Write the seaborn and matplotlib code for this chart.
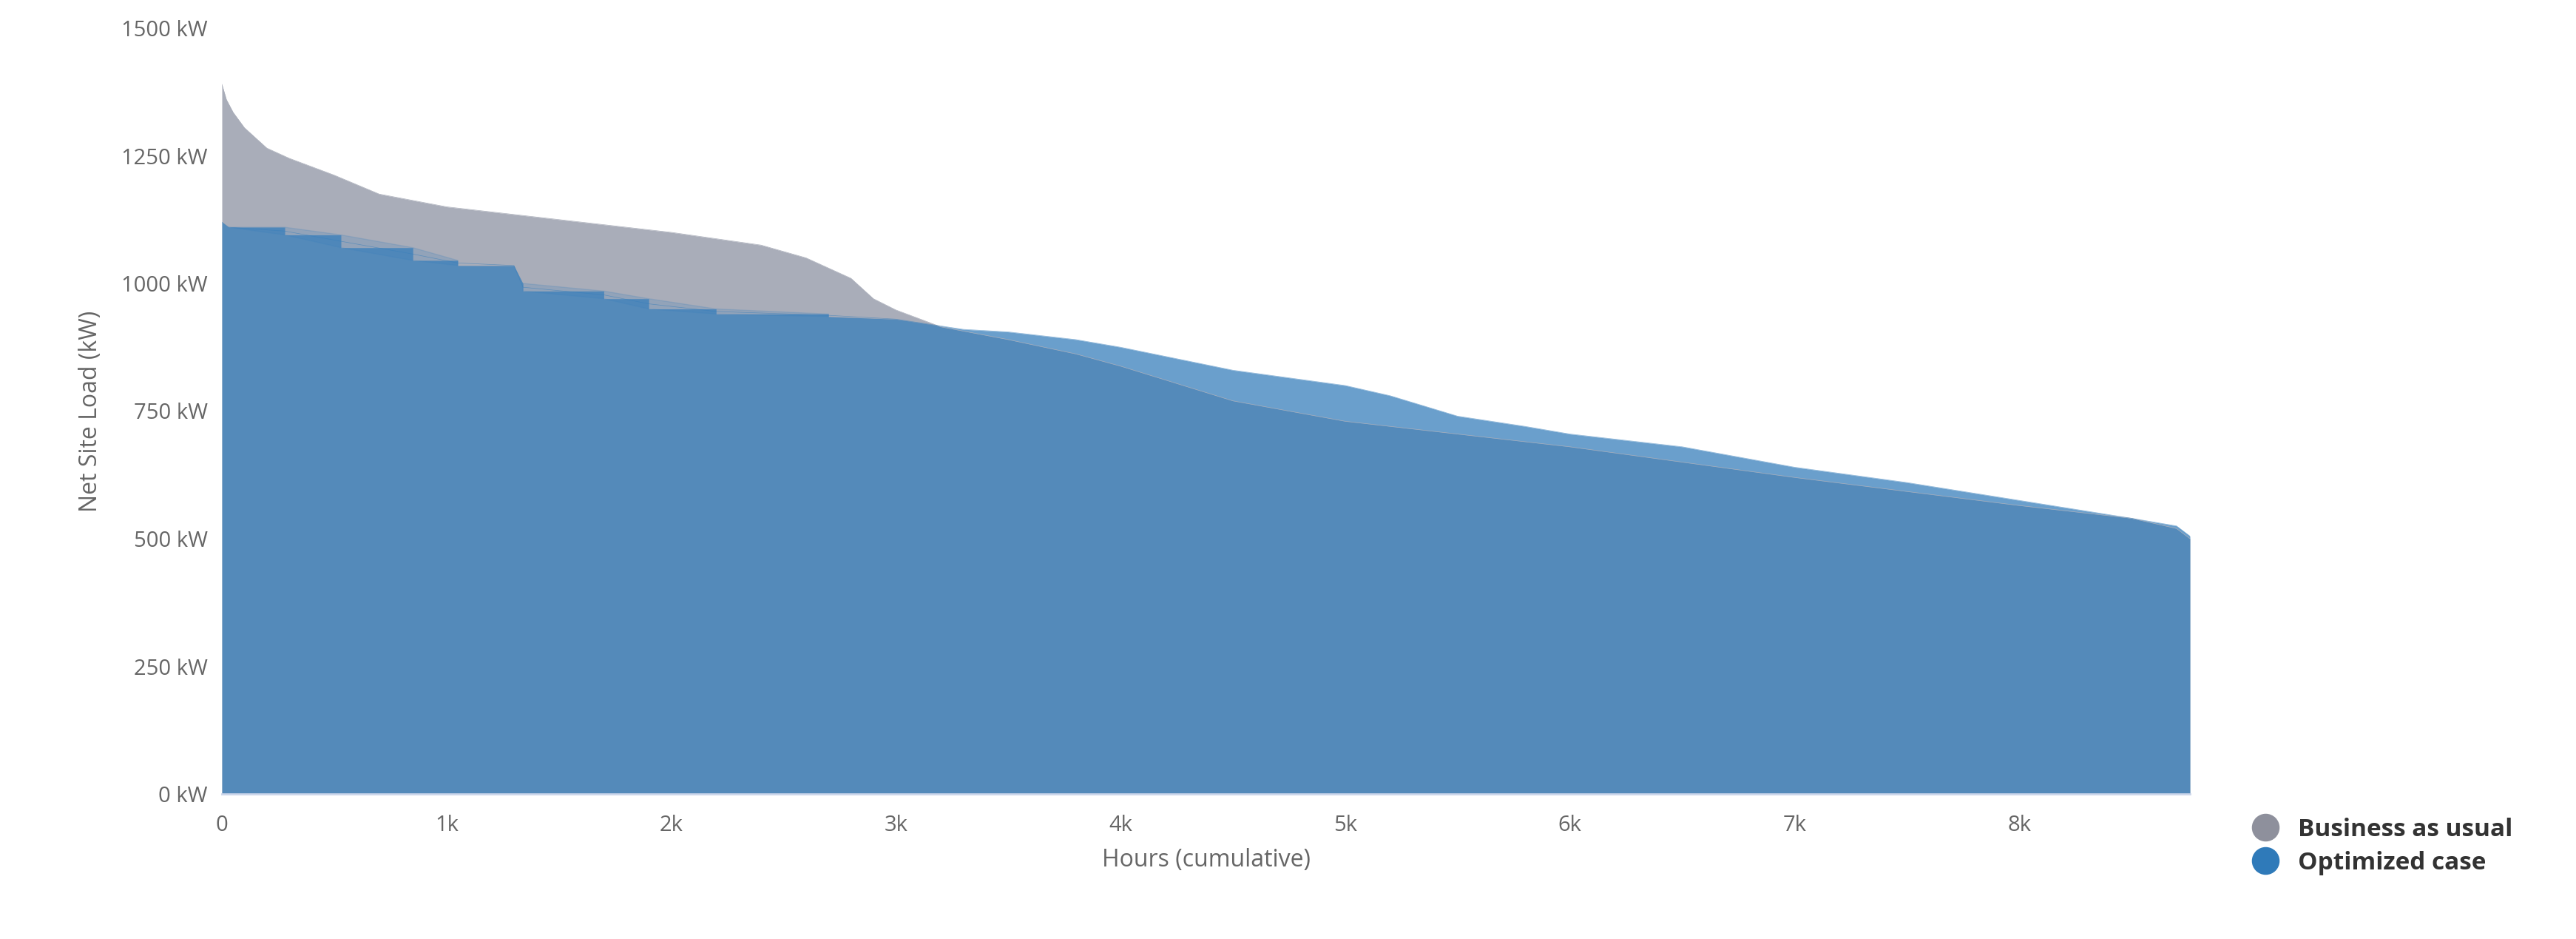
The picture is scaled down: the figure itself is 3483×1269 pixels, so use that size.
import matplotlib
matplotlib.use("Agg")
import matplotlib.pyplot as plt
import seaborn as sns
import numpy as np
import pandas as pd
from matplotlib.lines import Line2D

bau_hours = [0, 20, 50, 100, 200, 300, 500, 700, 1000, 1500, 2000, 2400, 2600, 2800, 2900, 3000, 3200, 3500, 3800, 4000, 4500, 5000, 6000, 7000, 8000, 8500, 8700, 8760]
bau_kw = [1390, 1360, 1335, 1305, 1265, 1245, 1212, 1175, 1150, 1125, 1100, 1075, 1050, 1010, 970, 948, 915, 890, 862, 838, 770, 730, 680, 620, 565, 540, 520, 500]

opt_hours = [0, 30, 30, 280, 280, 530, 530, 850, 850, 1050, 1050, 1300, 1340, 1340, 1700, 1700, 1900, 1900, 2200, 2200, 2700, 2700, 3000, 3300, 3500, 3800, 4000, 4500, 5000, 5200, 5500, 5800, 6000, 6500, 7000, 7500, 8000, 8500, 8700, 8760]
opt_kw = [1120, 1110, 1110, 1110, 1095, 1095, 1070, 1070, 1045, 1045, 1035, 1035, 1000, 985, 985, 970, 970, 950, 950, 940, 940, 935, 930, 910, 905, 890, 875, 830, 800, 780, 740, 720, 705, 680, 640, 610, 575, 540, 525, 505]

sns.set_style("white")
plt.rcParams['font.family'] = ['Open Sans', 'DejaVu Sans']

fig = plt.figure(figsize=(34.83, 12.69), dpi=100)
ax = fig.add_axes([300/3483, 1 - 1073/1269, (2961-300)/3483, (1073-38)/1269])

bau = pd.DataFrame({"h": bau_hours, "kw": bau_kw})
opt = pd.DataFrame({"h": opt_hours, "kw": opt_kw})
ax.fill_between(bau.h, 0, bau.kw, color="#a9adb9", lw=0)
ax.fill_between(opt.h, 0, opt.kw, color="#387fbb", alpha=0.75, lw=0)
sns.lineplot(data=bau, x="h", y="kw", ax=ax, color="#a9adb9", lw=0.5, sort=False)
sns.lineplot(data=opt, x="h", y="kw", ax=ax, color="#387fbb", lw=0.5, alpha=0.6, sort=False)

ax.set_xlim(0, 8760)
ax.set_ylim(0, 1500)
ax.set_yticks([0, 250, 500, 750, 1000, 1250, 1500])
ax.set_yticklabels([f"{v} kW" for v in [0, 250, 500, 750, 1000, 1250, 1500]])
ax.set_xticks([0, 1000, 2000, 3000, 4000, 5000, 6000, 7000, 8000])
ax.set_xticklabels(["0", "1k", "2k", "3k", "4k", "5k", "6k", "7k", "8k"])
for s in ["top", "right", "left"]:
    ax.spines[s].set_visible(False)
ax.spines["bottom"].set_color("#ccd6eb")
ax.spines["bottom"].set_linewidth(2)
ax.tick_params(axis="x", colors="#666666", labelsize=21, length=12, width=2, color="#ccd6eb", pad=8)
ax.tick_params(axis="y", colors="#666666", labelsize=21, length=0, pad=14)
ax.set_xlabel("Hours (cumulative)", fontsize=23, color="#666666", labelpad=12)
ax.set_ylabel("Net Site Load (kW)", fontsize=23, color="#666666", labelpad=18)

handles = [Line2D([], [], marker="o", ls="", color="#8e909c", markersize=26),
           Line2D([], [], marker="o", ls="", color="#2f7ab9", markersize=26)]
fig.legend(handles, ["Business as usual", "Optimized case"], loc="upper left",
           bbox_to_anchor=(3000/3483, 1 - 1075/1269), frameon=False,
           prop={"size": 24, "weight": "bold"}, labelcolor="#333333",
           handletextpad=0.3, labelspacing=0.35)

fig.savefig("out.png", dpi=100)
